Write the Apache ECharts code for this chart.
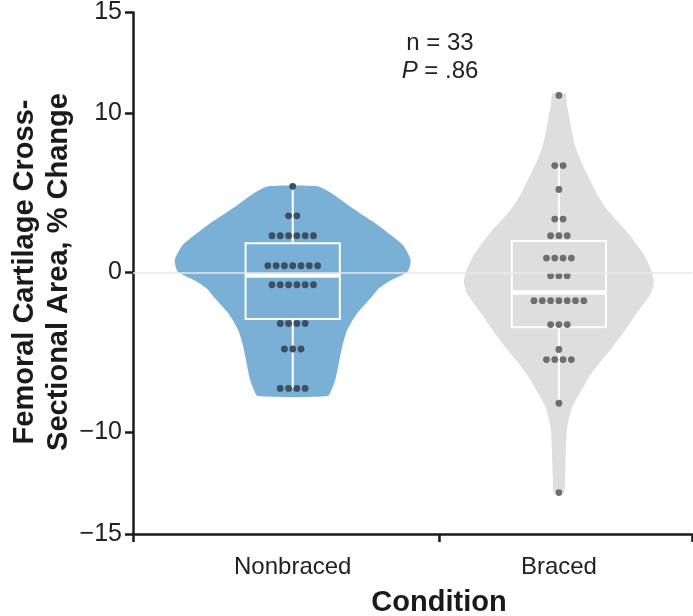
<!DOCTYPE html>
<html><head><meta charset="utf-8">
<script src="https://cdn.jsdelivr.net/npm/echarts@6/dist/echarts.min.js"></script>
<style>html,body{margin:0;padding:0;background:#fff}#c{width:693px;height:616px}</style>
</head><body><div id="c"></div>
<script>
// ---------- data ----------
const categories = ['Nonbraced', 'Braced'];
const nonbracedValues = [5.4, 3.55, 3.55, 2.3, 2.3, 2.3, 2.3, 2.3, 2.3,
  0.42, 0.42, 0.42, 0.42, 0.42, 0.42, 0.42,
  -0.77, -0.77, -0.77, -0.77, -0.77, -0.77,
  -3.2, -3.2, -3.2, -3.2, -4.8, -4.8, -4.8, -7.27, -7.27, -7.27, -7.27];
const bracedValues = [11.1, 6.7, 6.7, 5.2, 3.35, 3.35, 2.3, 2.3, 2.3,
  0.9, 0.9, 0.9, 0.9, -0.2, -0.2, -0.2,
  -1.77, -1.77, -1.77, -1.77, -1.77, -1.77, -1.77,
  -3.27, -3.27, -3.27, -4.83, -5.46, -5.46, -5.46, -5.46, -8.2, -13.8];
// [lower whisker, Q1, median, Q3, upper whisker]
const nonbracedBox = [-7.27, -2.92, -0.19, 1.83, 5.4];
const bracedBox = [-8.2, -3.44, -1.25, 1.98, 6.7];
// violin outlines: value and half-width (density, in category units)
const nonbracedViolinValues = [5.4, 5.0, 4.6, 4.23, 3.6, 2.98, 2.3, 1.73, 0.79, 0.06, -0.56, -1.0, -1.6, -2.44, -3.0, -3.69, -4.5, -5.36, -6.6, -7.2, -7.75];
const nonbracedViolinWidths = [0.092, 0.143, 0.177, 0.207, 0.263, 0.319, 0.372, 0.413, 0.443, 0.432, 0.361, 0.323, 0.293, 0.248, 0.225, 0.203, 0.188, 0.177, 0.162, 0.150, 0.131];
const bracedViolinValues = [11.2, 10.5, 9.86, 8.8, 7.77, 6.7, 5.69, 4.8, 4.02, 3.3, 2.56, 1.73, 1.0, 0.2, -0.6, -1.3, -2.02, -2.7, -3.48, -4.73, -5.56, -6.5, -7.44, -8.48, -9.73, -10.8, -11.8, -12.8, -13.8];
const bracedViolinWidths = [0.024, 0.030, 0.038, 0.049, 0.064, 0.090, 0.120, 0.147, 0.177, 0.214, 0.255, 0.293, 0.323, 0.346, 0.357, 0.346, 0.316, 0.286, 0.255, 0.199, 0.158, 0.116, 0.083, 0.049, 0.031, 0.027, 0.025, 0.023, 0.019];
const yTickValues = [-16.4, -10, 0, 10, 16.3];
const yTickLabels = ['\u221215', '\u221210', '0', '10', '15'];
const annotationN = 'n = 33';
const annotationP = '.86';

// ---------- styles ----------
const FONT = "'Liberation Sans', Arial, Helvetica, sans-serif";
const violinColors = ['#7aafd6', '#dedede'];
const dotColors = ['#3c5064', '#6e6e6e'];
const BOX_HALF = 0.177;
const DOT_STEP = 8.3, DOT_R = 3.4;

const violins = [
  {c: 0, vals: nonbracedViolinValues, w: nonbracedViolinWidths},
  {c: 1, vals: bracedViolinValues, w: bracedViolinWidths}
];
const boxes = [nonbracedBox, bracedBox];

// dot layout: group identical values into rows
function dotData(c, values) {
  const groups = {};
  values.forEach(v => { (groups[v] = groups[v] || []).push(v); });
  const out = [];
  Object.keys(groups).forEach(k => {
    const g = groups[k];
    g.forEach((v, i) => out.push([c, v, i - (g.length - 1) / 2]));
  });
  return out;
}
const dots = dotData(0, nonbracedValues).concat(dotData(1, bracedValues));

const chart = echarts.init(document.getElementById('c'), null, {renderer: 'canvas'});
chart.setOption({
  animation: false,
  grid: {left: 133, right: 1, top: 10, bottom: 82},
  xAxis: {
    type: 'value', min: -0.6, max: 1.5,
    axisLine: {show: true, onZero: false, lineStyle: {color: '#1a1a1a', width: 2.5}},
    axisTick: {show: true, customValues: [-0.6, 0.55, 1.5], length: 8, lineStyle: {color: '#1a1a1a', width: 2.5}},
    axisLabel: {customValues: [0, 1], formatter: v => categories[Math.round(v)] || '',
      fontSize: 24, color: '#222', fontFamily: FONT, margin: 21},
    splitLine: {show: false}
  },
  yAxis: {
    type: 'value', min: -16.4, max: 16.3,
    axisLine: {show: true, onZero: false, lineStyle: {color: '#1a1a1a', width: 2.5}},
    axisTick: {show: true, customValues: yTickValues, length: 8, lineStyle: {color: '#1a1a1a', width: 2.5}},
    axisLabel: {customValues: yTickValues,
      formatter: v => { const i = yTickValues.findIndex(t => Math.abs(t - v) < 1e-6); return i >= 0 ? yTickLabels[i] : ''; },
      fontSize: 25, color: '#222', fontFamily: FONT, margin: 11},
    splitLine: {show: false}
  },
  graphic: [
    {type: 'text', x: 42, y: 272, rotation: Math.PI / 2,
      style: {text: 'Femoral Cartilage Cross-\nSectional Area, % Change', align: 'center', verticalAlign: 'middle',
        font: "bold 29px " + FONT, fill: '#1a1a1a', lineHeight: 34}},
    {type: 'text', x: 439, y: 603,
      style: {text: 'Condition', align: 'center', verticalAlign: 'middle', font: "bold 29px " + FONT, fill: '#1a1a1a'}},
    {type: 'text', x: 440, y: 43,
      style: {text: annotationN, align: 'center', verticalAlign: 'middle', font: "24px " + FONT, fill: '#222'}},
    {type: 'text', x: 440, y: 71,
      style: {text: '{i|P} = ' + annotationP, align: 'center', verticalAlign: 'middle', font: "24px " + FONT, fill: '#222',
        rich: {i: {font: "italic 24px " + FONT, fill: '#222'}}}}
  ],
  series: [
    {
      type: 'line', data: [], z: 1, silent: true,
      markLine: {silent: true, symbol: 'none', label: {show: false},
        lineStyle: {color: '#e8e8e8', width: 1.5, type: 'solid'}, data: [{yAxis: 0}]}
    },
    {
      type: 'custom', z: 2, silent: true,
      data: violins.map(v => [v.c, 0]),
      renderItem: function (params, api) {
        const v = violins[params.dataIndex];
        const pts = [];
        for (let i = 0; i < v.vals.length; i++) pts.push(api.coord([v.c + v.w[i], v.vals[i]]));
        for (let i = v.vals.length - 1; i >= 0; i--) pts.push(api.coord([v.c - v.w[i], v.vals[i]]));
        return {type: 'polygon', shape: {points: pts, smooth: 0.2}, style: {fill: violinColors[v.c], stroke: null}};
      }
    },
    {
      type: 'custom', z: 3, silent: true,
      data: boxes.map((b, i) => [i, b[2]]),
      renderItem: function (params, api) {
        const c = params.dataIndex, b = boxes[c];
        const tl = api.coord([c - BOX_HALF, b[3]]), br = api.coord([c + BOX_HALF, b[1]]);
        const lo = api.coord([c, b[0]]), q1 = api.coord([c, b[1]]), q3 = api.coord([c, b[3]]), hi = api.coord([c, b[4]]);
        const med = api.coord([c, b[2]]);
        const ws = {stroke: '#ffffff', lineWidth: 2};
        return {type: 'group', children: [
          {type: 'line', shape: {x1: hi[0], y1: hi[1], x2: q3[0], y2: q3[1]}, style: ws},
          {type: 'line', shape: {x1: q1[0], y1: q1[1], x2: lo[0], y2: lo[1]}, style: ws},
          {type: 'rect', shape: {x: tl[0], y: tl[1], width: br[0] - tl[0], height: br[1] - tl[1]},
            style: {fill: 'none', stroke: '#ffffff', lineWidth: 2}},
          {type: 'line', shape: {x1: tl[0], y1: med[1], x2: br[0], y2: med[1]}, style: {stroke: '#ffffff', lineWidth: 4.5}}
        ]};
      }
    },
    {
      type: 'custom', z: 4, silent: true,
      data: dots,
      renderItem: function (params, api) {
        const c = api.value(0), v = api.value(1), k = api.value(2);
        const p = api.coord([c, v]);
        return {type: 'circle', shape: {cx: p[0] + k * DOT_STEP, cy: p[1], r: DOT_R}, style: {fill: dotColors[c]}};
      }
    }
  ]
});
</script>
</body></html>
